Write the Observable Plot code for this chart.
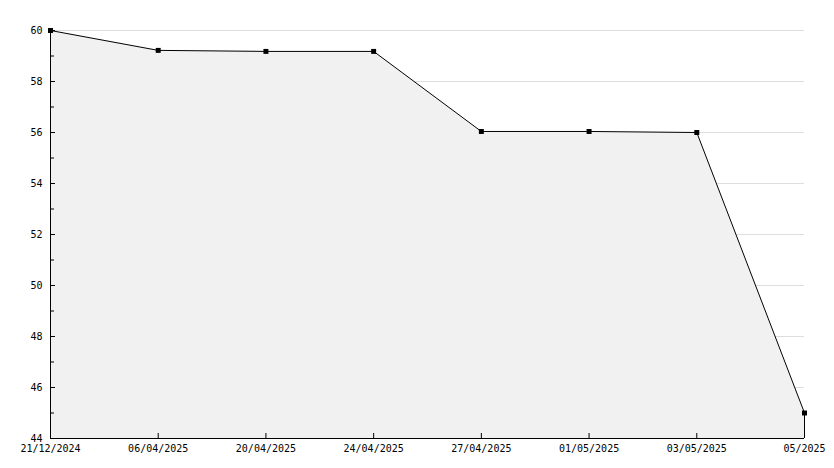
<!DOCTYPE html>
<html>
<head>
<meta charset="utf-8">
<script src="https://cdn.jsdelivr.net/npm/d3@7"></script>
<script src="https://cdn.jsdelivr.net/npm/@observablehq/plot@0.6"></script>
<style>
  html, body { margin: 0; padding: 0; background: #fff; }
  svg { display: block; }
</style>
</head>
<body>
<div id="chart"></div>
<script>
const dates = ["21/12/2024", "06/04/2025", "20/04/2025", "24/04/2025", "27/04/2025", "01/05/2025", "03/05/2025", "05/2025"];
const values = [60, 59.22, 59.18, 59.18, 56.04, 56.04, 56.0, 45.0];
const majorTicks = [44, 46, 48, 50, 52, 54, 56, 58, 60];
const minorTicks = [45, 47, 49, 51, 53, 55, 57, 59];
const yMin = 44, yMax = 60;

const data = dates.map((d, i) => ({date: d, value: values[i]}));
const innerDates = dates.slice(1, -1);

const chart = Plot.plot({
  width: 834,
  height: 468,
  marginLeft: 50,
  marginRight: 30,
  marginTop: 30,
  marginBottom: 30,
  style: {fontFamily: "DejaVu Sans Mono", fontSize: "10px", color: "#000", background: "#fff"},
  x: {type: "point", domain: dates, padding: 0, round: false},
  y: {domain: [yMin, yMax]},
  marks: [
    Plot.ruleY(majorTicks, {stroke: "#dddddd", strokeWidth: 1}),
    Plot.areaY(data, {x: "date", y1: yMin, y2: "value", fill: "#f1f1f1"}),
    Plot.ruleX([data[data.length - 1]], {x: "date", y1: yMin, y2: "value", stroke: "#000"}),
    Plot.line(data, {x: "date", y: "value", stroke: "#000", strokeWidth: 1}),
    Plot.dot(data, {x: "date", y: "value", symbol: "square", r: 2.8, fill: "#000", stroke: "none"}),
    Plot.axisY({ticks: majorTicks, tickSize: -5, tickPadding: 13, tickFormat: d => String(d), fill: "#000", stroke: "#000", strokeOpacity: 1, label: null}),
    Plot.axisY({ticks: minorTicks, tickSize: -4, text: null, stroke: "#000", strokeOpacity: 1, label: null}),
    Plot.axisX({ticks: innerDates, tickSize: -5, text: null, stroke: "#000", strokeOpacity: 1, label: null}),
    Plot.axisX({ticks: dates, tickSize: 0, tickPadding: 6, fill: "#000", label: null}),
    Plot.ruleX([dates[0]], {stroke: "#000"}),
    Plot.ruleY([yMin], {stroke: "#000"})
  ]
});
document.getElementById("chart").appendChild(chart);
</script>
</body>
</html>
